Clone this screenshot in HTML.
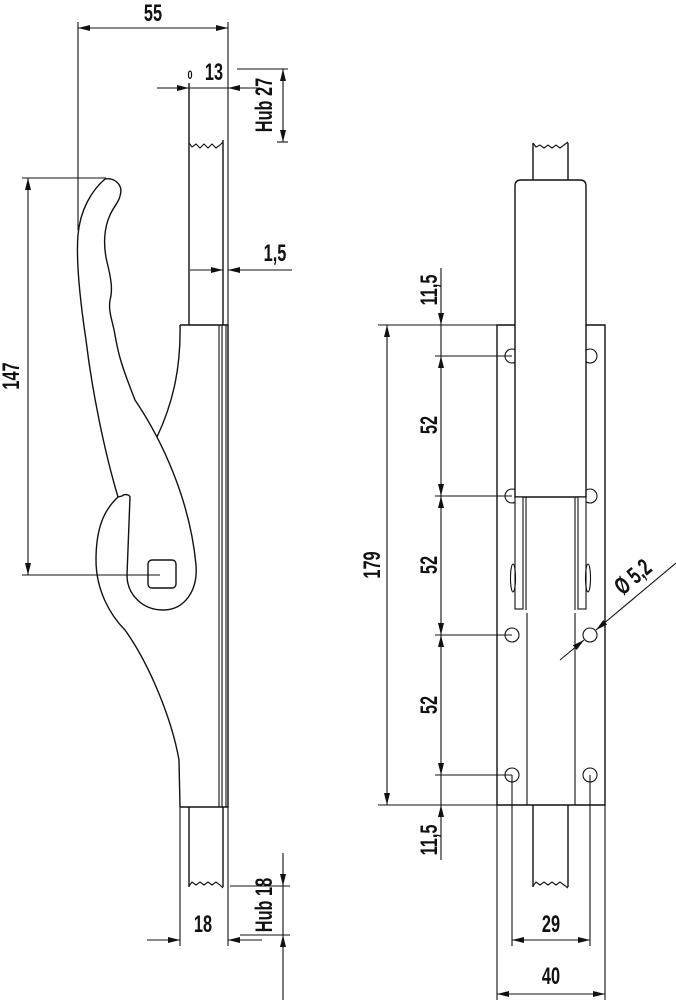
<!DOCTYPE html>
<html><head><meta charset="utf-8"><style>
html,body{margin:0;padding:0;background:#fff}
svg{display:block}
text{font-family:"Liberation Sans",sans-serif;font-size:24px;font-weight:bold;fill:#111}
</style></head><body>
<svg width="676" height="1000" viewBox="0 0 676 1000" xmlns="http://www.w3.org/2000/svg">
<defs>
<marker id="a" viewBox="0 0 12 6" refX="12" refY="3" markerWidth="12" markerHeight="6" markerUnits="userSpaceOnUse" orient="auto-start-reverse">
<path d="M0,0 L12,3 L0,6 z" fill="#111"/></marker>
</defs>
<g stroke="#111" fill="none" stroke-width="1.1">
<line x1="78" y1="22" x2="78" y2="230"/>
<line x1="228" y1="22" x2="228" y2="325"/>
<line x1="78" y1="28" x2="228" y2="28" marker-start="url(#a)" marker-end="url(#a)"/>
<line x1="157" y1="88" x2="189" y2="88" marker-end="url(#a)"/>
<line x1="260" y1="88" x2="228" y2="88" marker-end="url(#a)"/>
<line x1="189" y1="88" x2="228" y2="88"/>
<line x1="237" y1="69" x2="288" y2="69"/>
<line x1="277" y1="142" x2="288" y2="142"/>
<line x1="283" y1="69" x2="283" y2="142" marker-start="url(#a)" marker-end="url(#a)"/>
<line x1="189" y1="83" x2="189" y2="325" stroke-width="1.4"/>
<line x1="223" y1="140" x2="223" y2="325" stroke-width="1.4"/>
<path d="M189,143 l3,4 l4,-3 l4,4 l4,-4 l4,4 l4,-4 l4,4 l4,-3 l3,-3"/>
<line x1="190" y1="270" x2="223" y2="270" marker-end="url(#a)"/>
<line x1="292" y1="270" x2="228" y2="270" marker-end="url(#a)"/>
<line x1="22" y1="178" x2="106" y2="178"/>
<line x1="22" y1="575" x2="160" y2="575"/>
<line x1="28" y1="178" x2="28" y2="575" marker-start="url(#a)" marker-end="url(#a)"/>
<path d="M180,325 H228 V807 H180" stroke-width="1.4"/>
<line x1="219" y1="325" x2="219" y2="807"/>
<line x1="222" y1="325" x2="222" y2="807"/>
<line x1="226" y1="325" x2="226" y2="807"/>
<path d="M180,325 C181,370 172,405 157,437" stroke-width="1.4"/>
<path stroke-width="1.4" d="M105,179 C113,177 124,184 120,196 C119,202 114,206 110,215 C104,228 103,245 107,262 C111,278 113,290 110,300 C108,312 113,322 115,335 C118,352 120,362 135,400 C162,440 190,500 196,565 C198,590 185,610 163,610 C143,610 127,595 127,575 L130,497 C129,494 124,494 122,496 L118,497 C104,510 96,528 96,560 C96,590 110,615 125,630 C150,665 172,720 179,760 L180,807"/>
<path stroke-width="1.4" d="M105,179 C92,190 80,210 78,235 C76,260 80,300 86,340 C92,390 104,450 118,497"/>
<rect x="148" y="560" width="28" height="28" rx="4" stroke-width="1.4"/>
<line x1="189" y1="807" x2="189" y2="887" stroke-width="1.4"/>
<line x1="223" y1="807" x2="223" y2="887" stroke-width="1.4"/>
<path d="M189,886 l3,-4 l4,3 l4,-3 l4,3 l4,-3 l4,3 l4,-3 l4,3 l3,3"/>
<line x1="180" y1="807" x2="180" y2="946"/>
<line x1="228" y1="807" x2="228" y2="946"/>
<line x1="147" y1="940" x2="180" y2="940" marker-end="url(#a)"/>
<line x1="262" y1="940" x2="228" y2="940" marker-end="url(#a)"/>
<line x1="230" y1="886" x2="290" y2="886"/>
<line x1="240" y1="935" x2="290" y2="935"/>
<line x1="283" y1="853" x2="283" y2="886" marker-end="url(#a)"/>
<line x1="283" y1="1000" x2="283" y2="935" marker-end="url(#a)"/>
<line x1="283" y1="886" x2="283" y2="935"/>

<path d="M497,325 H605 V805 H497 Z" stroke-width="1.4"/>
<line x1="527" y1="613" x2="527" y2="805"/>
<line x1="575" y1="613" x2="575" y2="805"/>
<circle cx="512" cy="356" r="7"/><circle cx="590" cy="356" r="7"/>
<circle cx="512" cy="496" r="7"/><circle cx="590" cy="496" r="7"/>
<circle cx="512" cy="635" r="7"/><circle cx="590" cy="635" r="7"/>
<circle cx="512" cy="775" r="7"/><circle cx="590" cy="775" r="7"/>
<line x1="533" y1="143" x2="533" y2="180" stroke-width="1.4"/>
<line x1="568" y1="143" x2="568" y2="180" stroke-width="1.4"/>
<path d="M533,143 l3,4 l4,-2 l4,3 l4,-3 l4,3 l4,-3 l4,3 l4,-3 l4,-3"/>
<path d="M515,497 V186 Q515,180 521,180 H580 Q586,180 586,186 V497 Z" fill="#fff" stroke-width="1.4"/>
<rect x="515" y="497" width="8" height="112" fill="#fff"/>
<line x1="526" y1="497" x2="526" y2="610"/>
<rect x="578" y="497" width="8" height="112" fill="#fff"/>
<line x1="575" y1="497" x2="575" y2="610"/>
<ellipse cx="513" cy="578" rx="2.5" ry="14"/>
<ellipse cx="588" cy="578" rx="2.5" ry="14"/>
<line x1="533" y1="805" x2="533" y2="887" stroke-width="1.4"/>
<line x1="568" y1="805" x2="568" y2="887" stroke-width="1.4"/>
<path d="M533,886 l3,-4 l4,3 l4,-3 l4,3 l4,-3 l4,3 l4,-3 l4,3 l4,3"/>
<line x1="378" y1="325" x2="497" y2="325"/>
<line x1="378" y1="805" x2="497" y2="805"/>
<line x1="387" y1="325" x2="387" y2="805" marker-start="url(#a)" marker-end="url(#a)"/>
<line x1="435" y1="356" x2="512" y2="356"/>
<line x1="435" y1="496" x2="512" y2="496"/>
<line x1="435" y1="635" x2="512" y2="635"/>
<line x1="435" y1="775" x2="512" y2="775"/>
<line x1="441" y1="268" x2="441" y2="325" marker-end="url(#a)"/>
<line x1="441" y1="325" x2="441" y2="356"/>
<line x1="441" y1="356" x2="441" y2="496" marker-start="url(#a)" marker-end="url(#a)"/>
<line x1="441" y1="496" x2="441" y2="635" marker-start="url(#a)" marker-end="url(#a)"/>
<line x1="441" y1="635" x2="441" y2="775" marker-start="url(#a)" marker-end="url(#a)"/>
<line x1="441" y1="775" x2="441" y2="805"/>
<line x1="441" y1="860" x2="441" y2="805" marker-end="url(#a)"/>
<line x1="560" y1="660" x2="584" y2="640" marker-end="url(#a)"/>
<line x1="676" y1="563" x2="596" y2="630" marker-end="url(#a)"/>
<line x1="497" y1="805" x2="497" y2="1000"/>
<line x1="605" y1="805" x2="605" y2="1000"/>
<line x1="512" y1="775" x2="512" y2="946"/>
<line x1="590" y1="775" x2="590" y2="946"/>
<line x1="512" y1="940" x2="590" y2="940" marker-start="url(#a)" marker-end="url(#a)"/>
<line x1="497" y1="994" x2="605" y2="994" marker-start="url(#a)" marker-end="url(#a)"/>
</g>
<g>
<text transform="translate(153,21) scale(0.68,1)" text-anchor="middle">55</text>
<text transform="translate(190,79) scale(0.75,1)" text-anchor="middle" style="font-size:12px">0</text>
<text transform="translate(214,80) scale(0.68,1)" text-anchor="middle">13</text>
<text transform="translate(272,105) rotate(-90) scale(0.68,1)" text-anchor="middle">Hub 27</text>
<text transform="translate(275,261) scale(0.68,1)" text-anchor="middle">1,5</text>
<text transform="translate(19,376) rotate(-90) scale(0.68,1)" text-anchor="middle">147</text>
<text transform="translate(203,932) scale(0.68,1)" text-anchor="middle">18</text>
<text transform="translate(272,905) rotate(-90) scale(0.68,1)" text-anchor="middle">Hub 18</text>
<text transform="translate(380,565) rotate(-90) scale(0.68,1)" text-anchor="middle">179</text>
<text transform="translate(437,290) rotate(-90) scale(0.68,1)" text-anchor="middle">11,5</text>
<text transform="translate(437,425) rotate(-90) scale(0.68,1)" text-anchor="middle">52</text>
<text transform="translate(437,565) rotate(-90) scale(0.68,1)" text-anchor="middle">52</text>
<text transform="translate(437,705) rotate(-90) scale(0.68,1)" text-anchor="middle">52</text>
<text transform="translate(437,840) rotate(-90) scale(0.68,1)" text-anchor="middle">11,5</text>
<text transform="translate(638,583) rotate(-40) scale(0.68,1)" text-anchor="middle">Ø 5,2</text>
<text transform="translate(551,932) scale(0.68,1)" text-anchor="middle">29</text>
<text transform="translate(551,984) scale(0.68,1)" text-anchor="middle">40</text>
</g>
</svg>
</body></html>
